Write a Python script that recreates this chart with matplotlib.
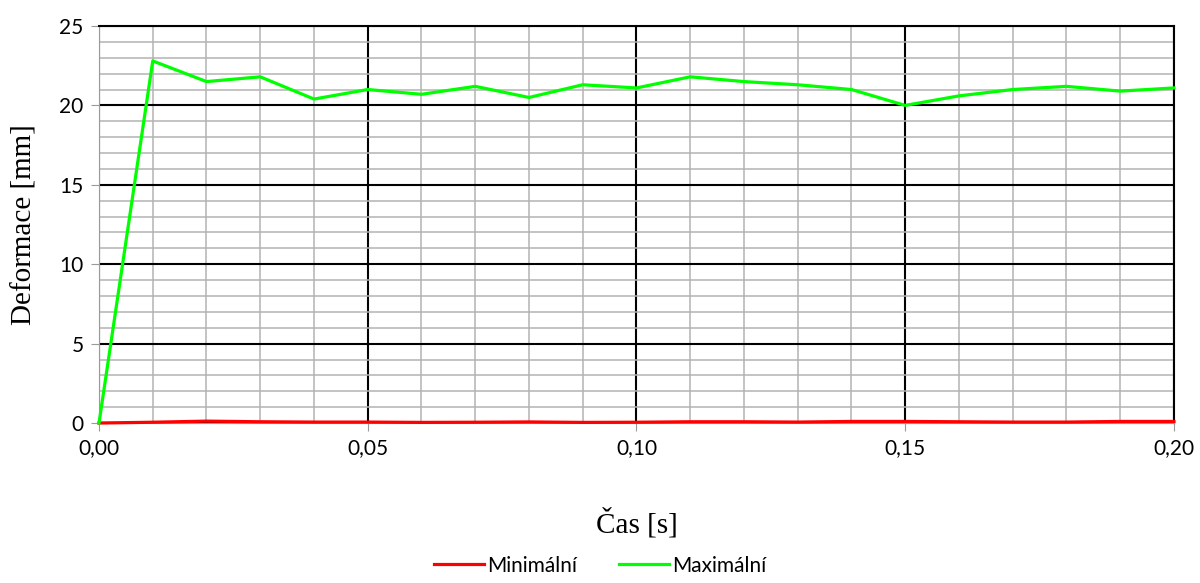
import matplotlib.pyplot as plt
from matplotlib.ticker import MultipleLocator, FuncFormatter

cas = [0.00, 0.01, 0.02, 0.03, 0.04, 0.05, 0.06, 0.07, 0.08, 0.09, 0.10,
       0.11, 0.12, 0.13, 0.14, 0.15, 0.16, 0.17, 0.18, 0.19, 0.20]
maximalni = [0.0, 22.8, 21.5, 21.8, 20.4, 21.0, 20.7, 21.2, 20.5, 21.3, 21.1,
             21.8, 21.5, 21.3, 21.0, 20.0, 20.6, 21.0, 21.2, 20.9, 21.1]
minimalni = [0.0, 0.05, 0.12, 0.08, 0.06, 0.06, 0.04, 0.05, 0.07, 0.04, 0.05,
             0.08, 0.08, 0.06, 0.10, 0.10, 0.08, 0.06, 0.06, 0.10, 0.10]

fig = plt.figure(figsize=(12, 5.83), dpi=100)
ax = fig.add_axes([0.0825, 0.2744, 0.8958, 0.681])

ax.plot(cas, minimalni, color='#ff0000', lw=2.3, label='Minimální', zorder=4, clip_on=False)
ax.plot(cas, maximalni, color='#00ff00', lw=2.3, label='Maximální', zorder=4, clip_on=False)

ax.set_xlim(0, 0.20)
ax.set_ylim(0, 25)
ax.xaxis.set_major_locator(MultipleLocator(0.05))
ax.xaxis.set_minor_locator(MultipleLocator(0.01))
ax.yaxis.set_major_locator(MultipleLocator(5))
ax.yaxis.set_minor_locator(MultipleLocator(1))
ax.xaxis.set_major_formatter(FuncFormatter(lambda v, p: f'{v:.2f}'.replace('.', ',')))

ax.grid(which='minor', color='#b3b3b3', lw=1.1, zorder=1)
ax.grid(which='major', color='black', lw=1.5, zorder=2)
ax.set_axisbelow(True)

for s in ['top', 'right']:
    ax.spines[s].set_color('black')
    ax.spines[s].set_linewidth(1.5)
ax.spines['left'].set_color('#9a9a9a')
ax.spines['bottom'].set_color('#9a9a9a')
ax.tick_params(which='major', length=6, color='#9a9a9a', labelsize=15, pad=5)
ax.tick_params(which='minor', length=0)
for t in ax.get_xticklabels() + ax.get_yticklabels():
    t.set_family('Lato')

ax.set_xlabel('Čas [s]', family='Liberation Serif', fontsize=21, labelpad=36)
ax.set_ylabel('Deformace [mm]', family='Liberation Serif', fontsize=21, labelpad=16)

fig.legend(loc='center', bbox_to_anchor=(0.5, 0.03), ncol=2, frameon=False,
           prop={'family': 'Lato', 'size': 15}, handlelength=2.4, handletextpad=0.15,
           columnspacing=2.0)

fig.savefig('out.png', dpi=100)
